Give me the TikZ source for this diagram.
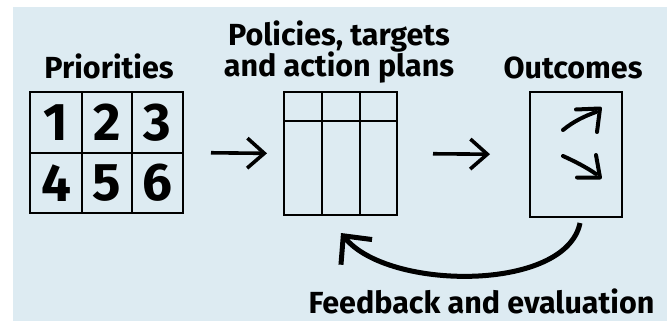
\documentclass[tikz,border=0pt]{standalone}
\usepackage{fontspec}
\setmainfont{Fira Sans}
\usetikzlibrary{arrows.meta}
\definecolor{bgblue}{HTML}{DDEBF2}
\tikzset{
  box/.style={draw=black, line width=2pt, inner sep=0pt, fill=none},
  thinline/.style={draw=black, line width=2pt},
  lbl/.style={font=\fontsize{30.5}{32}\selectfont\bfseries, anchor=base, inner sep=0pt},
  digit/.style={font=\fontsize{53}{55}\selectfont\bfseries, inner sep=0pt},
  flowarrow/.style={line width=3.6pt, -{Straight Barb[length=17pt,width=30pt]}},
  fbarrow/.style={line width=5pt, -{Straight Barb[length=21pt,width=40pt]}},
  trend/.style={line width=4pt, line cap=round, line join=round},
}
\begin{document}
\begin{tikzpicture}[x=1pt,y=-1pt]
\useasboundingbox (0,0) rectangle (667,321);
\fill[white] (0,0) rectangle (667,321);
\fill[bgblue] (13,7) rectangle (667,321);

% labels
\node[lbl] (lprio) at (109,78) {Priorities};
\node[lbl] (lpol1) at (339,46) {Policies, targets};
\node[lbl] (lpol2) at (339,77) {and action plans};
\node[lbl] (lout) at (573,78) {Outcomes};
\node[lbl] (lfb) at (481.5,313) {Feedback and evaluation};

% priorities grid
\node[box, minimum width=153pt, minimum height=121pt] (prio) at (106.5,152.5) {};
\draw[thinline] (81.5,92) -- (81.5,213);
\draw[thinline] (132,92) -- (132,213);
\draw[thinline] (30,152.5) -- (183,152.5);
\node[digit] (d1) at (56,122.5) {1};
\node[digit] (d2) at (107,122.5) {2};
\node[digit] (d3) at (157.5,122.5) {3};
\node[digit] (d4) at (56,183) {4};
\node[digit] (d5) at (107,183) {5};
\node[digit] (d6) at (157.5,183) {6};

% policies table
\node[box, minimum width=113pt, minimum height=123pt] (pol) at (340.5,153.5) {};
\draw[thinline] (284,121) -- (397,121);
\draw[thinline] (322,92) -- (322,215);
\draw[thinline] (360,92) -- (360,215);

% outcomes box
\node[box, minimum width=92pt, minimum height=125pt] (out) at (576,154.5) {};
\draw[trend] (563,130) .. controls (574,121) and (585,116) .. (596,112);
\draw[trend] (576,109.5) -- (600,108.5) -- (597,132);
\draw[trend] (563,156) .. controls (574,161) and (586,167) .. (596,174);
\draw[trend] (596,155) -- (600,177.5) -- (577,177.5);

% flow arrows
\draw[flowarrow, shorten <=27pt, shorten >=16pt] (prio.east) -- (pol.west);
\draw[flowarrow, shorten <=35pt, shorten >=39pt] (pol.east) -- (out.west);

% feedback arrow
\coordinate (fbstart) at (580,223);
\coordinate (fbend) at (341,233);
\draw[fbarrow] (fbstart) .. controls (566,292) and (388,291) .. (fbend);
\end{tikzpicture}
\end{document}
